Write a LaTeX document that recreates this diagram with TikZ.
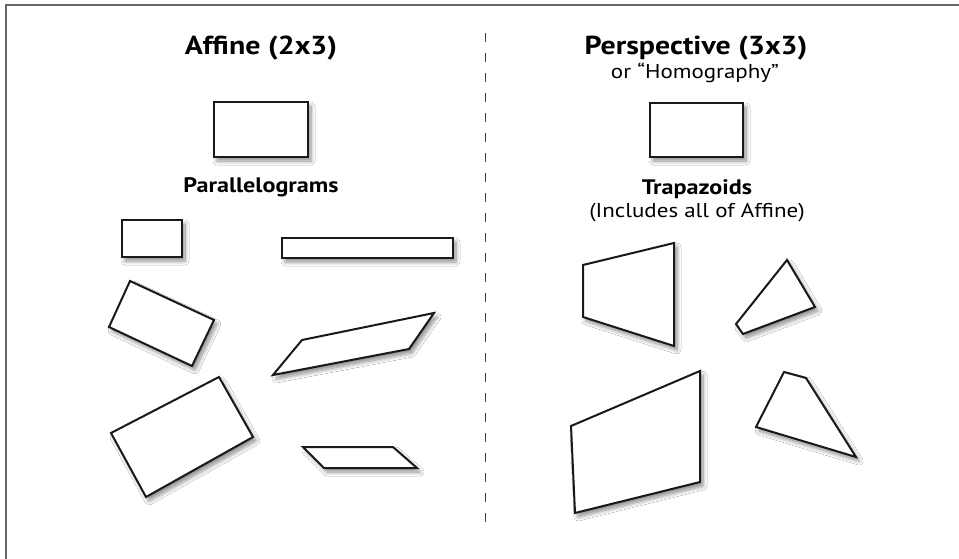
\documentclass[tikz,border=0pt]{standalone}
\usepackage{fontspec}
\setmainfont{PT Sans}[FakeStretch=1.15]
\usetikzlibrary{shadows.blur}
\begin{document}
\begin{tikzpicture}[x=1pt,y=-1pt,
  shp/.style={draw=black!90,line width=2pt,line join=miter,fill=white,
    blur shadow={shadow xshift=3pt,shadow yshift=-4pt,shadow blur steps=8,shadow blur radius=4pt,shadow opacity=45}},
  ttl/.style={font=\fontsize{26}{29}\selectfont\bfseries,inner sep=0pt,anchor=base},
  sub/.style={font=\fontsize{21}{24}\selectfont\bfseries,inner sep=0pt,anchor=base},
  note/.style={font=\fontsize{20}{23}\selectfont,inner sep=0pt,anchor=base}]
\useasboundingbox (0,0) rectangle (959,559);
\fill[white] (0,0) rectangle (959,559);
% frame (top and left edges visible)
\draw[line width=2pt,black!60] (6,559) -- (6,5) -- (959,5);
% divider
\draw[black!75,line width=1pt,dash pattern=on 9pt off 11pt] (485,33) -- (485,523);
% Left side
\node[ttl] (affine) at (261,55) {Affine (2x3)};
\draw[shp] (214,102) rectangle (308,157);
\node[sub] (para) at (261,193) {Parallelograms};
\draw[shp] (122,220) rectangle (182,257);
\draw[shp] (282,238) rectangle (453,258);
\draw[shp] (130,281) -- (214,320) -- (192,366) -- (109,327) -- cycle;
\draw[shp] (302,340) -- (434,313) -- (409,349) -- (273,375) -- cycle;
\draw[shp] (219,377) -- (253,437) -- (146,497) -- (111,433) -- cycle;
\draw[shp] (303,447) -- (393,447) -- (417,468) -- (324,468) -- cycle;
% Right side
\node[ttl] (persp) at (696,55) {Perspective (3x3)};
\node[note] (homog) at (695,79) {or “Homography”};
\draw[shp] (650,103) rectangle (743,157);
\node[sub] (trap) at (697,195) {Trapazoids};
\node[note] (incl) at (697,217) {(Includes all of Affine)};
\draw[shp] (583,265) -- (674,243) -- (674,346) -- (583,317) -- cycle;
\draw[shp] (787,260) -- (815,307) -- (743,334) -- (736,324) -- cycle;
\draw[shp] (700,371) -- (700,482) -- (575,513) -- (571,426) -- cycle;
\draw[shp] (784,372) -- (806,378) -- (856,457) -- (756,427) -- cycle;
\end{tikzpicture}
\end{document}
